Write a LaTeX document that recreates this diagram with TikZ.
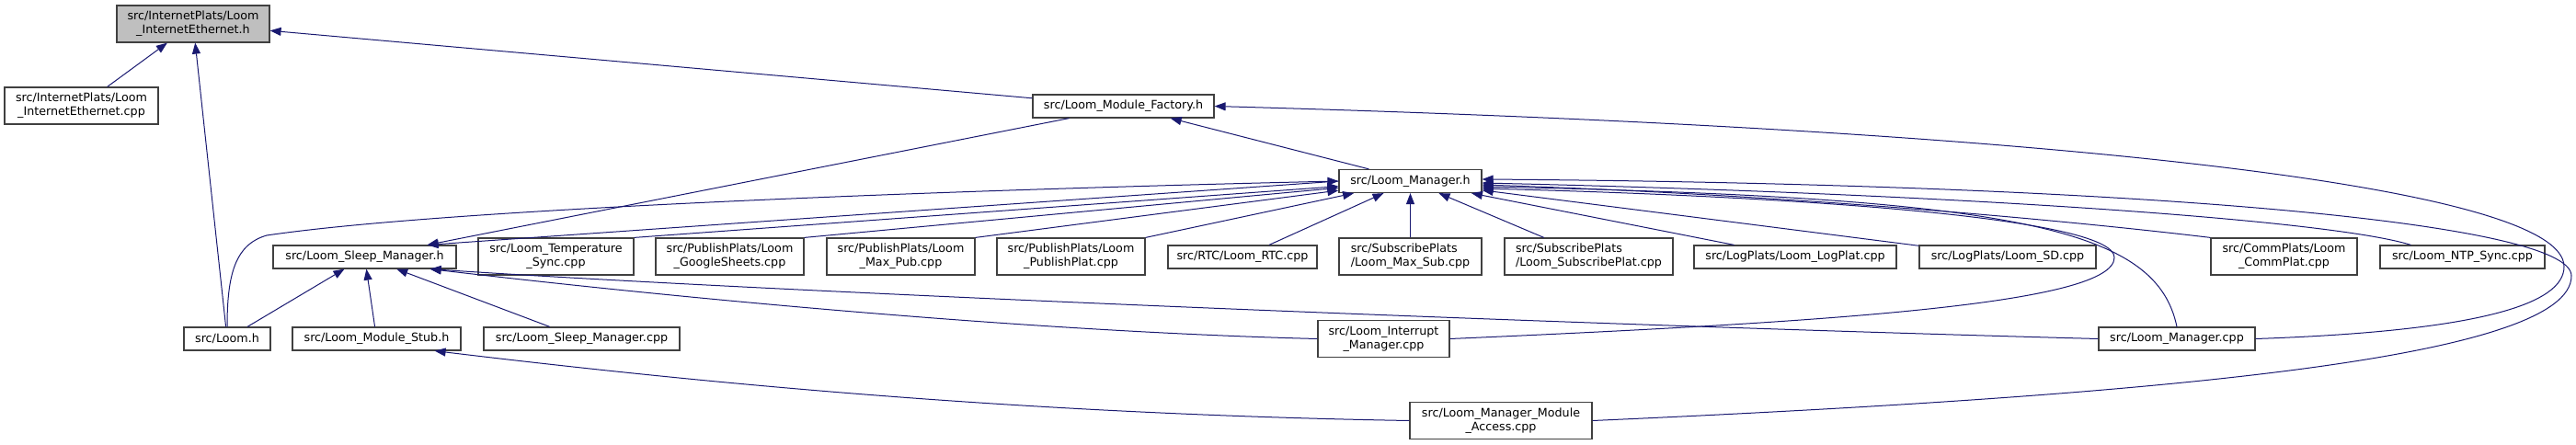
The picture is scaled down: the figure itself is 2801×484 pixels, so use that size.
\documentclass[tikz,border=0pt]{standalone}
\usepackage{fontspec}
\setmainfont{DejaVu Sans}
\usetikzlibrary{arrows.meta}
\definecolor{edgeblue}{HTML}{191970}
\definecolor{nodeline}{HTML}{404040}
\definecolor{rootfill}{HTML}{BFBFBF}
\begin{document}
\begin{tikzpicture}[x=1pt,y=-1pt,>={Triangle[length=12pt,width=9pt]},
  file/.style={draw=nodeline,fill=white,line width=1.2pt,inner sep=0pt,
    minimum height=25pt,font=\fontsize{12.7}{15}\selectfont},
  twoline/.style={minimum height=40pt,align=center},
  incl/.style={->,edgeblue,line width=1pt}]
  \useasboundingbox (0,0) rectangle (2801,484);

  \node[file,twoline,fill=rootfill,minimum width=166pt] (ieh) at (210,26) {src/InternetPlats/Loom\\\_InternetEthernet.h};
  \node[file,twoline,minimum width=167pt] (iecpp) at (88.5,115) {src/InternetPlats/Loom\\\_InternetEthernet.cpp};
  \node[file,minimum width=197pt] (factory) at (1221.5,115.5) {src/Loom\_Module\_Factory.h};
  \node[file,minimum width=155pt] (mgrh) at (1533.5,197) {src/Loom\_Manager.h};

  \node[file,minimum width=199pt] (sleeph) at (396.5,279.5) {src/Loom\_Sleep\_Manager.h};
  \node[file,twoline,minimum width=169pt] (temp) at (604.5,279) {src/Loom\_Temperature\\\_Sync.cpp};
  \node[file,twoline,minimum width=161pt] (gsheets) at (793.5,279) {src/PublishPlats/Loom\\\_GoogleSheets.cpp};
  \node[file,twoline,minimum width=161pt] (maxpub) at (979.5,279) {src/PublishPlats/Loom\\\_Max\_Pub.cpp};
  \node[file,twoline,minimum width=161pt] (pubplat) at (1164.5,279) {src/PublishPlats/Loom\\\_PublishPlat.cpp};
  \node[file,minimum width=162pt] (rtc) at (1351,279.5) {src/RTC/Loom\_RTC.cpp};
  \node[file,twoline,align=left,minimum width=155pt] (maxsub) at (1533.5,279) {src/SubscribePlats\\/Loom\_Max\_Sub.cpp};
  \node[file,twoline,align=left,minimum width=183pt] (subplat) at (1727.5,279) {src/SubscribePlats\\/Loom\_SubscribePlat.cpp};
  \node[file,minimum width=220pt] (logplat) at (1952,279.5) {src/LogPlats/Loom\_LogPlat.cpp};
  \node[file,minimum width=192pt] (sd) at (2183,279.5) {src/LogPlats/Loom\_SD.cpp};
  \node[file,twoline,minimum width=159pt] (commplat) at (2483.5,279) {src/CommPlats/Loom\\\_CommPlat.cpp};
  \node[file,minimum width=179pt] (ntp) at (2677.5,279.5) {src/Loom\_NTP\_Sync.cpp};

  \node[file,minimum width=94pt] (loomh) at (247,368.5) {src/Loom.h};
  \node[file,minimum width=183pt] (stub) at (409.5,368.5) {src/Loom\_Module\_Stub.h};
  \node[file,minimum width=213pt] (sleepcpp) at (632.5,368.5) {src/Loom\_Sleep\_Manager.cpp};
  \node[file,twoline,minimum width=143pt] (interrupt) at (1504.5,368.5) {src/Loom\_Interrupt\\\_Manager.cpp};
  \node[file,minimum width=170pt] (mgrcpp) at (2367,368.5) {src/Loom\_Manager.cpp};
  \node[file,twoline,minimum width=198pt] (access) at (1632,457.5) {src/Loom\_Manager\_Module\\\_Access.cpp};

  \coordinate (sleepin) at ([xshift=-32pt]sleeph.north east);
  \coordinate (sleepout) at ([xshift=-29pt]sleeph.south east);

  \draw[incl] (iecpp) -- (ieh);
  \draw[incl] (loomh) -- (ieh);
  \draw[incl] (factory) -- (ieh);
  \draw[incl] ([xshift=-45pt]mgrh.north) -- (factory);
  \draw[incl] (mgrcpp.east) .. controls (2700,360) and (2788,330) .. (2788,290)
    .. controls (2788,200) and (2200,140) .. (factory.east);

  \draw[incl] ([xshift=-59pt]factory.south) -- (sleepin);
  \draw[incl] (mgrh.west) -- (sleepin);
  \foreach \n in {loomh,stub,sleepcpp}
    \draw[incl] (\n) -- (sleeph);
  \draw[incl] (interrupt.west) .. controls (1100,360) and (700,320) .. (sleepout);
  \draw[incl] (mgrcpp.west) .. controls (1600,350) and (800,315) .. (sleepout);
  \draw[incl] (access.west) .. controls (1100,450) and (750,415) .. ([xshift=-29pt]stub.south east);

  \draw[incl] (loomh.north) .. controls (247,300) and (255,266) .. (290,256)
    .. controls (500,225) and (1100,205) .. (mgrh.west);
  \foreach \n in {temp,gsheets,maxpub,pubplat}
    \draw[incl] (\n.north east) -- (mgrh);
  \foreach \n in {rtc,maxsub,subplat,logplat,sd}
    \draw[incl] (\n) -- (mgrh);
  \draw[incl] (commplat.north west) .. controls (2250,240) and (1950,212) .. ([yshift=-4pt]mgrh.east);
  \draw[incl] ([xshift=34pt]ntp.north west) .. controls (2530,238) and (2100,210) .. ([yshift=-2pt]mgrh.east);
  \draw[incl] (interrupt.east) .. controls (2000,350) and (2299,330) .. (2299,280)
    .. controls (2299,240) and (2000,215) .. ([yshift=-8pt]mgrh.east);
  \draw[incl] (mgrcpp.north) .. controls (2345,250) and (2200,215) .. ([yshift=-6pt]mgrh.east);
  \draw[incl] (access.east) .. controls (2350,430) and (2796,390) .. (2796,300)
    .. controls (2796,240) and (2300,200) .. ([yshift=2pt]mgrh.east);
\end{tikzpicture}
\end{document}
